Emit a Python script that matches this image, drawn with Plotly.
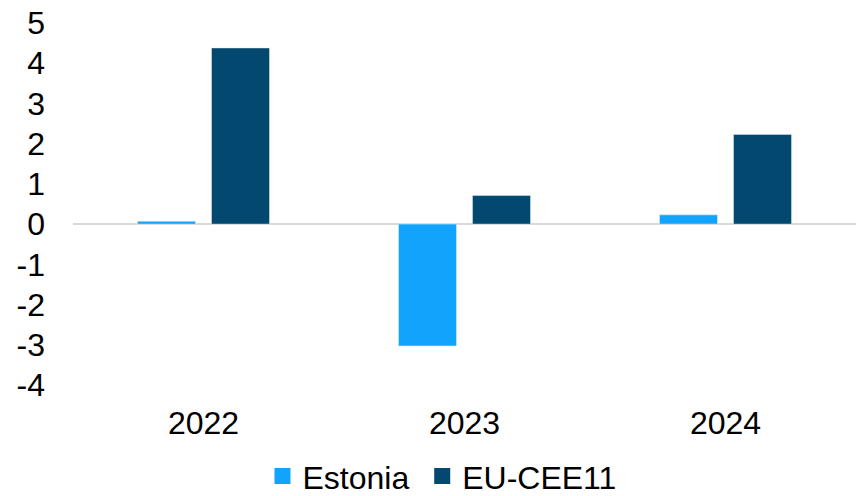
import plotly.graph_objects as go

years = ["2022", "2023", "2024"]
estonia = [0.07, -3.03, 0.23]
eu_cee11 = [4.38, 0.71, 2.23]
y_ticks = [5, 4, 3, 2, 1, 0, -1, -2, -3, -4]

c_est = "#12A4FD"
c_eu = "#03486F"
font = "Liberation Sans, Arial, sans-serif"

fig = go.Figure()
fig.add_trace(go.Bar(x=years, y=estonia, name="Estonia", marker_color=c_est,
                     showlegend=False))
fig.add_trace(go.Bar(x=years, y=eu_cee11, name="EU-CEE11", marker_color=c_eu,
                     showlegend=False))
fig.add_trace(go.Scatter(x=[None], y=[None], mode="markers", name="Estonia",
                         marker=dict(symbol="square", size=16, color=c_est),
                         legend="legend"))
fig.add_trace(go.Scatter(x=[None], y=[None], mode="markers", name="EU-CEE11",
                         marker=dict(symbol="square", size=16, color=c_eu),
                         legend="legend2"))

leg = dict(orientation="h", xanchor="left", yanchor="middle", y=-0.252,
           font=dict(size=32), itemclick=False, bgcolor="rgba(0,0,0,0)")
fig.update_layout(
    width=858, height=496,
    margin=dict(l=73, r=2, t=23, b=111, autoexpand=False),
    paper_bgcolor="white", plot_bgcolor="white",
    font=dict(family=font, size=32, color="#000000"),
    barmode="group", bargap=0.433, bargroupgap=0.216,
    legend=dict(leg, x=0.242),
    legend2=dict(leg, x=0.446),
)
fig.update_xaxes(type="category", showline=False, showgrid=False, ticks="",
                 ticklabelstandoff=16, tickfont=dict(size=32))
fig.update_yaxes(range=[-4, 5], tickvals=y_ticks, ticktext=[str(v) for v in y_ticks],
                 showgrid=False, showline=False, zeroline=True,
                 zerolinecolor="#D9D9D9", zerolinewidth=2,
                 ticklabelstandoff=27, tickfont=dict(size=32))

fig.write_html("out.html")
